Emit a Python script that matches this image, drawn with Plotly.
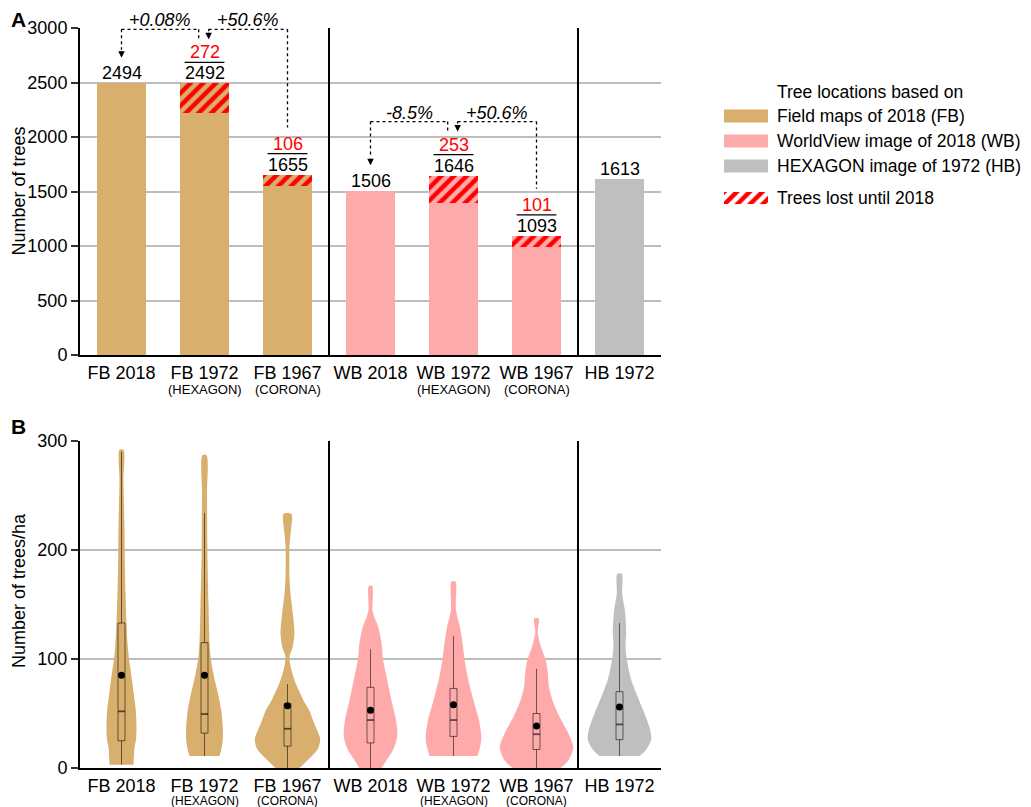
import plotly.graph_objects as go

# ---- data -------------------------------------------------------------
categories = ["FB 2018", "FB 1972", "FB 1967", "WB 2018", "WB 1972", "WB 1967", "HB 1972"]
sublabels = ["", "(HEXAGON)", "(CORONA)", "", "(HEXAGON)", "(CORONA)", ""]
totals = [2494, 2492, 1655, 1506, 1646, 1093, 1613]
lost = [0, 272, 106, 0, 253, 101, 0]
pct_fb = ["+0.08%", "+50.6%"]
pct_wb = ["-8.5%", "+50.6%"]

# violin outlines: density value (trees/ha) and half width
v_fb2018_y = [292, 264, 220, 191, 160, 133, 115, 100, 86, 70, 53, 38, 26, 19, 3]
v_fb2018_w = [2, 2, 3, 3.3, 4, 5, 6, 7.5, 9.7, 12, 14.3, 15, 14.5, 13, 12]
v_fb1972_y = [287, 250, 191, 150, 115, 100, 86, 69, 53, 38, 26, 16.5, 11]
v_fb1972_w = [2, 2.5, 3, 4, 5, 6.3, 9, 13.3, 16.7, 18.3, 18.3, 16.7, 15]
v_fb1967_y = [233, 220, 205, 175, 160, 140, 124, 110, 103, 96, 88, 78, 70, 62, 53, 45, 38, 26, 17, 7, 0]
v_fb1967_w = [4, 3.7, 2, 2, 3, 5.5, 7, 5, 2.2, 2.5, 4.5, 8, 12, 16, 21.7, 25, 28, 32.7, 30, 20, 12]
v_wb2018_y = [167, 145, 138, 130, 115, 100, 84, 62, 44, 29, 16.5, 7, 0]
v_wb2018_w = [1.7, 2, 4, 7.5, 11, 12.5, 16, 21, 25.5, 26.7, 22.5, 16, 11]
v_wb1972_y = [171, 145, 130, 115, 100, 84, 62, 44, 26, 11]
v_wb1972_w = [2, 2.5, 6.3, 9, 11, 14, 20, 25.5, 27.8, 24]
v_wb1967_y = [137, 128, 124, 111, 100, 90, 74, 62, 47, 32, 19, 7, 0]
v_wb1967_w = [2.3, 1.5, 1.2, 4.5, 8.8, 11, 12.5, 16, 23, 31.7, 36.7, 32, 24]
v_hb1972_y = [178, 160, 142, 124, 111, 96, 81, 65, 50, 35, 26, 17, 11]
v_hb1972_w = [2.3, 2.7, 5.7, 6.7, 6, 8, 11.7, 18.3, 25, 30.7, 31.7, 26.7, 20]

box_q1 = [25, 32, 20, 23, 29, 17, 26]
box_med = [52, 49.5, 36, 44, 44, 31, 40]
box_q3 = [133, 115, 59, 74, 73, 50, 70]
box_lo = [3, 11, 0, 0, 11, 0, 11]
box_hi = [290, 234, 77, 109, 121, 91, 133]
box_mean = [85, 85, 57, 53, 58, 38.5, 56]

violins = [
    (v_fb2018_y, v_fb2018_w), (v_fb1972_y, v_fb1972_w), (v_fb1967_y, v_fb1967_w),
    (v_wb2018_y, v_wb2018_w), (v_wb1972_y, v_wb1972_w), (v_wb1967_y, v_wb1967_w),
    (v_hb1972_y, v_hb1972_w),
]

# ---- styling ----------------------------------------------------------
TAN, PINK, GREY = "#D8AF6C", "#FFAAAA", "#BFBFBF"
RED = "#FF0000"
colors = [TAN] * 3 + [PINK] * 3 + [GREY]
FONT = "Liberation Sans, Arial, sans-serif"
OFF = 8                      # page body margin
W, H = 1023, 799
ML, MR, MT, MB = 72, 10, 20, 39
PW, PH = W - ML - MR, H - MT - MB
UPP = 3000 / 327.0      # trees per pixel in panel A
VSCALE = 1 / 83.0       # violin half width -> category units
BW = 0.042              # half box width
HATCH = dict(shape="/", fgcolor=RED, size=9, solidity=0.5, fillmode="replace")


def px_x(px):
    return (px - OFF - ML) / PW


def px_y(py):
    return (H - MB - (py - OFF)) / PH


pos = list(range(len(categories)))
base = [t - l for t, l in zip(totals, lost)]

fig = go.Figure()

# ---- panel A: bars ----------------------------------------------------
fig.add_trace(go.Bar(x=pos, y=base, marker=dict(color=colors, line_width=0), width=0.6,
                     xaxis="x", yaxis="y", showlegend=False, hoverinfo="skip"))
for i in pos:
    if lost[i]:
        fig.add_trace(go.Bar(x=[i], y=[lost[i]], base=[base[i]], width=0.6, xaxis="x", yaxis="y",
                             showlegend=False, hoverinfo="skip",
                             marker=dict(color=colors[i], line_width=0,
                                         pattern=dict(HATCH, bgcolor=colors[i]))))

annotations = []
shapes = []
for i, (t, l) in enumerate(zip(totals, lost)):
    annotations.append(dict(x=i, y=t, xref="x", yref="y", text=str(t), showarrow=False,
                            yanchor="bottom", yshift=-2, font=dict(size=18, color="black")))
    if l:
        annotations.append(dict(x=i, y=t, xref="x", yref="y", text=str(l), showarrow=False,
                                yanchor="bottom", yshift=19, font=dict(size=18, color=RED)))
        shapes.append(dict(type="line", xref="x", yref="y", x0=i - 0.24, x1=i + 0.24,
                           ysizemode="pixel", yanchor=t, y0=21, y1=21,
                           line=dict(color="black", width=1.3)))

dot = dict(color="black", width=1.3, dash="dot")
for (a, b, c), labels in [((0, 1, 2), pct_fb), ((3, 4, 5), pct_wb)]:
    yc = totals[b] + 54 * UPP
    xs, xh = b - 0.07, b + 0.05
    tip_a = totals[a] + 25.5 * UPP
    tip_b = totals[b] + 44 * UPP
    segs = [
        (a, yc, xs, yc), (xs, yc, xs, totals[b] + 44 * UPP), (a, yc, a, tip_a + 8 * UPP),
        (c, yc, c, totals[c] + 47 * UPP), (xh, yc, c, yc), (xh, yc, xh, tip_b + 8 * UPP),
    ]
    for x0, y0, x1, y1 in segs:
        shapes.append(dict(type="line", xref="x", yref="y", x0=x0, y0=y0, x1=x1, y1=y1, line=dot))
    for xt, yt in [(a, tip_a), (xh, tip_b)]:
        annotations.append(dict(x=xt, y=yt, xref="x", yref="y", ax=0, ay=-8, text="",
                                showarrow=True, arrowhead=2, arrowsize=1, arrowwidth=1.3,
                                arrowcolor="black", standoff=0))
    annotations.append(dict(x=(a + xs) / 2, y=yc, xref="x", yref="y", text="<i>%s</i>" % labels[0],
                            showarrow=False, yanchor="bottom", yshift=-3, font=dict(size=18)))
    annotations.append(dict(x=(xh + c) / 2, y=yc, xref="x", yref="y", text="<i>%s</i>" % labels[1],
                            showarrow=False, yanchor="bottom", yshift=-3, font=dict(size=18)))

# ---- panel B: violins with box plots ----------------------------------
for i, (vy, vw) in enumerate(violins):
    pts = sorted(zip(vy, vw))
    ys = [p[0] for p in pts] + [p[0] for p in reversed(pts)]
    xs_ = [i + p[1] * VSCALE for p in pts] + [i - p[1] * VSCALE for p in reversed(pts)]
    fig.add_trace(go.Scatter(x=xs_, y=ys, mode="lines", fill="toself", fillcolor=colors[i],
                             line=dict(width=0, shape="spline", smoothing=0.8, color=colors[i]),
                             xaxis="x2", yaxis="y2", showlegend=False, hoverinfo="skip"))

bx, by, mx, my = [], [], [], []
for i in pos:
    l, r = i - BW, i + BW
    bx += [l, r, r, l, l, None, i, i, None, i, i, None]
    by += [box_q1[i], box_q1[i], box_q3[i], box_q3[i], box_q1[i], None,
           box_lo[i], box_q1[i], None, box_q3[i], box_hi[i], None]
    mx += [l, r, None]
    my += [box_med[i], box_med[i], None]
fig.add_trace(go.Scatter(x=bx, y=by, mode="lines", line=dict(color="rgba(0,0,0,0.55)", width=1),
                         xaxis="x2", yaxis="y2", showlegend=False, hoverinfo="skip"))
fig.add_trace(go.Scatter(x=mx, y=my, mode="lines", line=dict(color="rgba(0,0,0,0.6)", width=1.8),
                         xaxis="x2", yaxis="y2", showlegend=False, hoverinfo="skip"))
fig.add_trace(go.Scatter(x=pos, y=box_mean, mode="markers", marker=dict(color="black", size=7),
                         xaxis="x2", yaxis="y2", showlegend=False, hoverinfo="skip"))

# sublabels under both panels
for i, s in enumerate(sublabels):
    if s:
        annotations.append(dict(x=i, y=0, xref="x", yref="y", text=s, showarrow=False,
                                yanchor="top", yshift=-25, font=dict(size=13)))
        annotations.append(dict(x=i, y=0, xref="x2", yref="y2", text=s, showarrow=False,
                                yanchor="top", yshift=-24, font=dict(size=12)))

# separators
for xr, yr in [("x", "y domain"), ("x2", "y2 domain")]:
    for xv in (2.5, 5.5):
        shapes.append(dict(type="line", xref=xr, yref=yr, x0=xv, x1=xv, y0=0, y1=1,
                           line=dict(color="black", width=2)))

# ---- legend (drawn by hand) -------------------------------------------
def ptext(px, py, text, size=17.5, **kw):
    return dict(x=px_x(px), y=px_y(py), xref="paper", yref="paper", text=text, showarrow=False,
                yanchor="middle", font=dict(size=size), **kw)


annotations.append(ptext(775, 92, "Tree locations based on", xanchor="left"))
legend_items = [("Field maps of 2018 (FB)", TAN, 116), ("WorldView image of 2018 (WB)", PINK, 141),
                ("HEXAGON image of 1972 (HB)", GREY, 166)]
for txt, col, yc in legend_items:
    shapes.append(dict(type="rect", xref="paper", yref="paper", x0=px_x(724), x1=px_x(768),
                       y0=px_y(yc + 6.5), y1=px_y(yc - 6.5), fillcolor=col, line_width=0))
    annotations.append(ptext(775, yc, txt, xanchor="left"))
annotations.append(ptext(775, 198, "Trees lost until 2018", xanchor="left"))
fig.add_trace(go.Bar(x=[0.5], y=[1], width=1, xaxis="x3", yaxis="y3", showlegend=False,
                     hoverinfo="skip",
                     marker=dict(color="white", line_width=0, pattern=dict(HATCH, bgcolor="white"))))

# titles and panel letters
annotations += [
    ptext(18, 191.5, "Number of trees", size=18, xanchor="center", textangle=-90),
    ptext(19, 591, "Number of trees/ha", size=18, xanchor="center", textangle=-90),
    ptext(18, 19, "<b>A</b>", size=21, xanchor="center"),
    ptext(18, 427, "<b>B</b>", size=21, xanchor="center"),
]

xdom = [0, 581 / PW]
xax = dict(domain=xdom, range=[-0.5, 6.5], tickvals=pos, ticktext=categories, ticks="",
           showline=True, linecolor="black", linewidth=2, showgrid=False, zeroline=False,
           tickfont=dict(size=18), fixedrange=True, automargin=False)
yax = dict(showline=True, linecolor="black", linewidth=2, ticks="outside", ticklen=7,
           tickwidth=1.5, tickcolor="#333", gridcolor="#BDBDBD", gridwidth=2, zeroline=False,
           tickfont=dict(size=18), fixedrange=True, automargin=False)

fig.update_layout(
    width=W, height=H, margin=dict(l=ML, r=MR, t=MT, b=MB, autoexpand=False),
    plot_bgcolor="white", paper_bgcolor="white", barmode="overlay", bargap=0,
    font=dict(family=FONT, color="black"), showlegend=False,
    xaxis=dict(xax, anchor="y"),
    yaxis=dict(yax, domain=[px_y(355), 1], range=[0, 3000], dtick=500, anchor="x"),
    xaxis2=dict(xax, anchor="y2"),
    yaxis2=dict(yax, domain=[0, px_y(441)], range=[0, 300], dtick=100, anchor="x2"),
    xaxis3=dict(domain=[px_x(724), px_x(768)], range=[0, 1], visible=False, anchor="y3",
                automargin=False),
    yaxis3=dict(domain=[px_y(204), px_y(192)], range=[0, 1], visible=False, anchor="x3",
                automargin=False),
    annotations=annotations, shapes=shapes,
)

fig.write_html("out.html")
